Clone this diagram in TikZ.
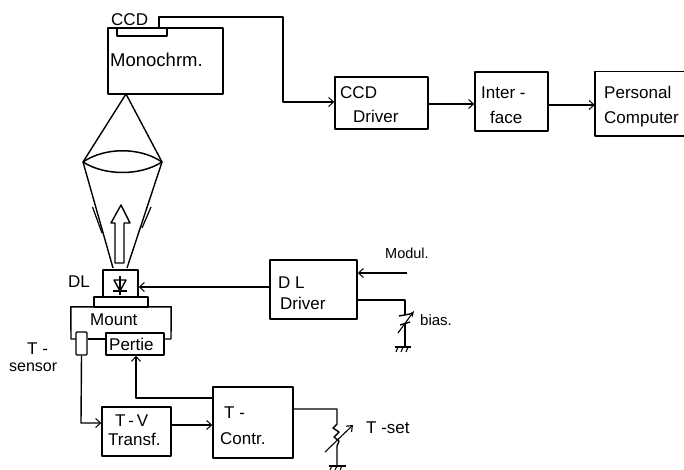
\documentclass[tikz,border=0pt]{standalone}
\usepackage{fontspec}
\setmainfont{Liberation Sans}
\usetikzlibrary{arrows.meta}
\tikzset{
  boxn/.style={draw,rectangle,inner sep=0pt,line width=1.4pt},
  lab/.style={inner sep=0pt,font=\fontsize{17}{17}\selectfont,anchor=base west},
  wire/.style={line width=1.4pt},
  conn/.style={line width=1.4pt,-{Straight Barb[length=5pt,width=9pt,line width=1pt]}},
  thin wire/.style={line width=1.1pt}
}
\begin{document}
\begin{tikzpicture}[x=1pt,y=-1pt,line join=round]
\useasboundingbox (0,0) rectangle (684,470);
% boxes
\node[boxn,minimum width=115pt,minimum height=66pt] (mono) at (165.5,61) {};
\node[boxn,minimum width=50pt,minimum height=8pt] (ccdchip) at (142,32) {};
\node[boxn,minimum width=93pt,minimum height=52pt] (ccddrv) at (381.5,103) {};
\node[boxn,minimum width=73pt,minimum height=59pt] (iface) at (511.5,101.5) {};
\node[inner sep=0pt,minimum width=89pt,minimum height=64pt] (pc) at (639.5,104) {};
\draw[wire] (pc.north east) -- (pc.north west) -- (pc.south west) -- (pc.south east);
\node[boxn,minimum width=87pt,minimum height=59pt] (dldrv) at (313.5,289.5) {};
\node[boxn,minimum width=35pt,minimum height=27pt] (dl) at (120.5,283.5) {};
\node[boxn,minimum width=54pt,minimum height=10pt] (plate) at (121,302) {};
\node[inner sep=0pt,minimum width=100pt,minimum height=32pt] (mount) at (121,323) {};
\draw[wire] (76,339) -- (71,339) -- (mount.north west) -- (mount.north east) -- (171,339) -- (164,339);
\node[boxn,minimum width=58pt,minimum height=22pt] (peltie) at (135,344) {};
\node[boxn,minimum width=11pt,minimum height=23pt,rounded corners=1pt] (tsens) at (81.5,343.5) {};
\node[boxn,minimum width=69pt,minimum height=49pt] (tv) at (136.5,431.5) {};
\node[boxn,minimum width=80pt,minimum height=71pt] (tc) at (253,422.5) {};
% labels
\node[lab] (tccd) at (111,26) {CCD};
\node[lab,font=\fontsize{18.5}{18.5}\selectfont] (tmono) at (110,67) {Monochrm.};
\node[lab] (t1a) at (340,99) {CCD};
\node[lab] (t1b) at (353,123) {Driver};
\node[lab] (t2a) at (481,99) {Inter -};
\node[lab] (t2b) at (490,124) {face};
\node[lab] (t3a) at (604,99) {Personal};
\node[lab] (t3b) at (604,124) {Computer};
\node[lab] (tdl) at (68,287) {DL};
\node[lab] (tmount) at (90,325) {Mount};
\node[lab] (tpel) at (109,350) {Pertie};
\node[lab] (ts1) at (27,354) {T -};
\node[lab,font=\fontsize{16}{16}\selectfont] (ts2) at (9,371) {sensor};
\node[lab] (ttv1) at (115,426) {T\,-\,V};
\node[lab] (ttv2) at (108,445) {Transf.};
\node[lab] (ttc1) at (224,418) {T -};
\node[lab] (ttc2) at (220,444) {Contr.};
\node[lab] (tdd1) at (278,288) {D L};
\node[lab] (tdd2) at (280,309) {Driver};
\node[lab,font=\fontsize{14.5}{14.5}\selectfont] (tmod) at (385,258) {Modul.};
\node[lab,font=\fontsize{15}{15}\selectfont] (tbias) at (420,325) {bias.};
\node[lab] (tset) at (366,433) {T -set};
% named free ends
\coordinate (lensL) at (83,162);
\coordinate (lensR) at (162,162);
\coordinate (apex) at (126,94);
\coordinate (coneL) at (113,268);
\coordinate (coneR) at (127,268);
\coordinate (modin) at (407,273);
% connectors
\draw[conn] (159,28) -- (159,17) -- (283,17) -- (283,102) -- (ccddrv.west |- 0,102);
\draw[conn] (ccddrv.east |- 0,104) -- (iface.west |- 0,104);
\draw[conn] (iface.east |- 0,105) -- (pc.west |- 0,105);
\draw[conn] (dldrv.west |- 0,287) -- (dl.east |- 0,287);
\draw[conn] (modin) -- (dldrv.east |- modin);
\draw[conn] (tsens.south) -- (81,423) -- (tv.west |- 0,423);
\draw[conn] (tv.east |- 0,425) -- (tc.west |- 0,425);
\draw[conn] (tc.west |- 0,398) -- (136,398) -- (peltie.south -| 136,0);
\draw[wire] (tsens.east |- 0,339) -- (peltie.west |- 0,339);
% lens and cones
\draw[line width=1.5pt] (lensL) .. controls (105,147) and (140,147) .. (lensR);
\draw[line width=1.5pt] (lensL) .. controls (105,176) and (140,176) .. (lensR);
\draw[wire] (lensL) -- (apex) -- (lensR);
\draw[wire] (lensL) -- (coneL) (lensR) -- (coneR);
\draw[line width=1.2pt] (92.5,207) -- (102,233);
\draw[line width=1.2pt] (151,207) -- (142,228);
% hollow arrow
\draw[wire] (115,263) -- (115,223) -- (111,223) -- (121,205) -- (130,223) -- (124,223) -- (124,263) -- cycle;
% diode
\draw[wire] (120,276) -- (120,295);
\draw[wire] (114,280) -- (126,280) -- (120,291) -- cycle;
\draw[wire] (113,291) -- (127,291);
% bias
\draw[wire] (dldrv.east |- 0,300) -- (405,300) -- (405,315);
\draw[wire] (399,316) -- (410,314);
\draw[wire] (400,325) -- (410,322);
\draw[wire] (405,324) -- (405,347);
\draw[thin wire,-{Stealth[length=6pt,width=5pt]}] (398,333) -- (414,311);
\draw[wire] (395,347) -- (411,347);
\draw[thin wire] (398,347) -- (396,352) (403,347) -- (401,352) (408,347) -- (406,352);
% T-set
\draw[wire] (tc.east |- 0,409) -- (337,409) -- (337,424) -- (333,428) -- (339,432) -- (334,437) -- (339,441) -- (337,446) -- (337,467);
\draw[thin wire,-{Straight Barb[length=5pt,width=8pt]}] (325,452) -- (353,425);
\draw[wire] (329,466) -- (346,466);
\draw[thin wire] (332,466) -- (330,470) (337,466) -- (335,470) (342,466) -- (340,470);
\end{tikzpicture}
\end{document}
